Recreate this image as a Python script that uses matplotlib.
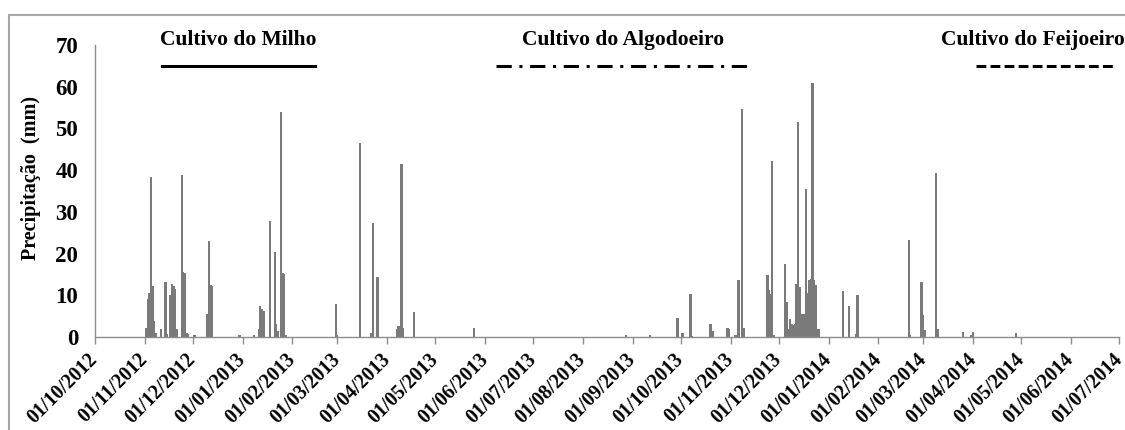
import matplotlib
matplotlib.use('agg')
import matplotlib.pyplot as plt
import matplotlib.dates as mdates
from matplotlib.patches import Rectangle

import numpy as np
import pandas as pd

plt.rcParams['font.family'] = ['Liberation Serif', 'DejaVu Serif']
plt.rcParams['font.weight'] = 'bold'

# Daily rainfall (mm), only days with rain are listed.
rain_dates = [
    '2012-11-02', '2012-11-03', '2012-11-04', '2012-11-05', '2012-11-06', '2012-11-07',
    '2012-11-08', '2012-11-11', '2012-11-14', '2012-11-15', '2012-11-17', '2012-11-18',
    '2012-11-19', '2012-11-20', '2012-11-21', '2012-11-24', '2012-11-25', '2012-11-26',
    '2012-11-27', '2012-11-28', '2012-12-02', '2012-12-10', '2012-12-11', '2012-12-12',
    '2012-12-13', '2012-12-30',
    '2013-01-08', '2013-01-11', '2013-01-12', '2013-01-13', '2013-01-14', '2013-01-18',
    '2013-01-21', '2013-01-22', '2013-01-23', '2013-01-25', '2013-01-26', '2013-01-27',
    '2013-01-28', '2013-02-28', '2013-03-01', '2013-03-15', '2013-03-22', '2013-03-23',
    '2013-03-26', '2013-04-07', '2013-04-08', '2013-04-09', '2013-04-10', '2013-04-11',
    '2013-04-18', '2013-05-25', '2013-08-28', '2013-09-12', '2013-09-29', '2013-10-02',
    '2013-10-07', '2013-10-08', '2013-10-19', '2013-10-20', '2013-10-21', '2013-10-30',
    '2013-10-31', '2013-11-04', '2013-11-06', '2013-11-08', '2013-11-09', '2013-11-24',
    '2013-11-25', '2013-11-26', '2013-11-27', '2013-11-28',
    '2013-12-05', '2013-12-06', '2013-12-07', '2013-12-08', '2013-12-09', '2013-12-10',
    '2013-12-11', '2013-12-12', '2013-12-13', '2013-12-14', '2013-12-15', '2013-12-16',
    '2013-12-17', '2013-12-18', '2013-12-19', '2013-12-20', '2013-12-21', '2013-12-22',
    '2013-12-23', '2013-12-24', '2013-12-25', '2013-12-26',
    '2014-01-10', '2014-01-14', '2014-01-18', '2014-01-19', '2014-02-20', '2014-02-21',
    '2014-02-28', '2014-03-01', '2014-03-02', '2014-03-09', '2014-03-10', '2014-03-26',
    '2014-03-31', '2014-04-01', '2014-04-28',
]
rain_mm = [
    2.2, 9.2, 10.5, 38.4, 12.2, 3.8,
    1.0, 1.8, 13.2, 0.6, 10.1, 12.8,
    12.2, 11.4, 2.0, 38.8, 15.5, 15.3,
    1.0, 0.8, 0.5, 5.6, 23.0, 12.5,
    12.3, 0.5,
    0.5, 1.9, 7.4, 6.6, 6.2, 27.8,
    20.3, 3.2, 1.4, 53.9, 15.4, 15.2,
    0.5, 8.0, 0.5, 46.6, 1.0, 27.3,
    14.4, 2.0, 2.6, 2.6, 41.4, 2.2,
    5.9, 2.2, 0.4, 0.4, 4.6, 1.0,
    10.2, 0.3, 3.0, 3.2, 1.5, 2.2,
    1.8, 0.5, 13.6, 54.6, 2.2, 14.8,
    11.2, 10.4, 42.1, 0.5,
    17.6, 8.4, 2.0, 4.2, 3.2, 2.8,
    3.0, 12.8, 51.6, 12.0, 5.6, 5.6,
    5.6, 35.6, 10.6, 13.6, 14.0, 60.8,
    13.7, 12.4, 1.8, 1.8,
    11.1, 7.4, 0.8, 10.0, 23.2, 0.5,
    13.3, 5.3, 1.7, 39.4, 2.0, 1.3,
    0.5, 1.3, 1.0,
]

# Crop periods: (label, start, end)
crop_names = ['Cultivo do Milho', 'Cultivo do Algodoeiro', 'Cultivo do Feijoeiro']
crop_start = ['2012-11-12', '2013-06-08', '2014-04-03']
crop_end = ['2013-02-15', '2013-11-13', '2014-06-27']

x_start, x_end = pd.Timestamp('2012-10-01'), pd.Timestamp('2014-07-01')

dates = pd.to_datetime(rain_dates)

fig = plt.figure(figsize=(11.25, 4.30), dpi=100)
ax = fig.add_axes([0.0844, 0.2163, 0.9103, 0.679])

ax.bar(dates, rain_mm, width=1.4, color='#7a7a7a', edgecolor='none', align='center')

ax.set_xlim(x_start, x_end)
ax.set_ylim(0, 70)
ax.set_yticks(np.arange(0, 71, 10))

ax.xaxis.set_major_locator(mdates.MonthLocator())
ax.xaxis.set_major_formatter(mdates.DateFormatter('%d/%m/%Y'))
for lbl in ax.get_xticklabels():
    lbl.set_rotation(45)
    lbl.set_ha('right')
    lbl.set_va('center')
    lbl.set_rotation_mode('anchor')
    lbl.set_fontsize(14.2)
    lbl.set_fontweight('bold')

ax.tick_params(axis='x', direction='out', length=5, width=1.0, color='#8c8c8c', pad=9)
ax.tick_params(axis='y', length=0, pad=12, labelsize=16.5)
for lbl in ax.get_yticklabels():
    lbl.set_fontweight('bold')

for side in ('top', 'right'):
    ax.spines[side].set_visible(False)
for side in ('left', 'bottom'):
    ax.spines[side].set_color('#8c8c8c')
    ax.spines[side].set_linewidth(1.0)

ax.set_ylabel('Precipitação  (mm)', fontsize=14.5, fontweight='bold')
ax.yaxis.set_label_coords(-0.053, 0.545)

# Crop period markers above the plot area
styles = [
    dict(linestyle='-'),
    dict(linestyle=(0, (5, 2.5, 1, 2.5))),
    dict(linestyle=(0, (3.2, 1.4))),
]
for name, s, e, st in zip(crop_names, crop_start, crop_end, styles):
    s, e = pd.Timestamp(s), pd.Timestamp(e)
    ax.plot([s, e], [65, 65], color='black', lw=2.2, clip_on=False, **st)
for name, s, e in zip(crop_names[:2], crop_start[:2], crop_end[:2]):
    mid = pd.Timestamp(s) + (pd.Timestamp(e) - pd.Timestamp(s)) / 2
    ax.text(mid, 71.3, name, ha='center', va='center', fontsize=15.5,
            fontweight='bold', clip_on=False)
ax.text(pd.Timestamp('2014-03-12'), 71.3, crop_names[2], ha='left', va='center',
        fontsize=15.5, fontweight='bold', clip_on=False)

# Chart frame
fig.patches.append(Rectangle((9 / 1125, -0.2), 1.2, 1.2 - 15 / 430,
                             transform=fig.transFigure, fill=False,
                             edgecolor='#a6a6a6', lw=1.5))

fig.savefig('out.png', dpi=100)
